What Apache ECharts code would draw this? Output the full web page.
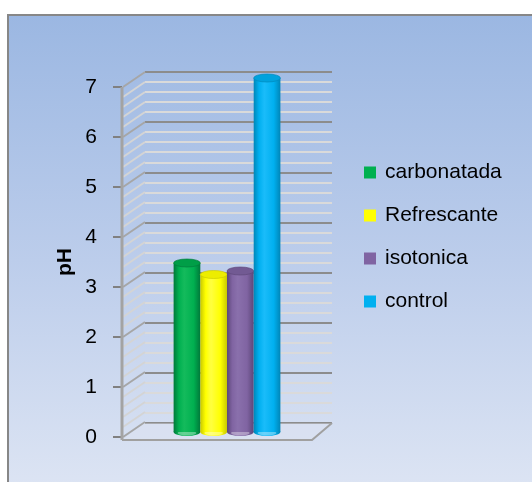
<!DOCTYPE html>
<html>
<head>
<meta charset="utf-8">
<script src="https://cdn.jsdelivr.net/npm/echarts@6/dist/echarts.min.js"></script>
<style>
  html, body { margin: 0; padding: 0; background: #ffffff; }
  #chart { width: 532px; height: 482px; }
</style>
</head>
<body>
<div id="chart"></div>
<script>
// pH of each drink type
const categories = ['pH'];
const seriesNames = ['carbonatada', 'Refrescante', 'isotonica', 'control'];
const carbonatada = [3.38];
const refrescante = [3.15];
const isotonica = [3.22];
const control = [7.08];
const yTicks = [0, 1, 2, 3, 4, 5, 6, 7];
const seriesValues = [carbonatada, refrescante, isotonica, control];

const colors = ['#00b050', '#ffff00', '#8064a2', '#00b0f0'];
// cylinder shading: [edge, body, highlight, top cap]
const shades = [
  ['#00793a', '#00b050', '#14bb5c', '#009e47'],
  ['#c9c900', '#ffff00', '#ffff40', '#eded00'],
  ['#5c4779', '#8064a2', '#8a70ac', '#725a93'],
  ['#0086b8', '#00b0f0', '#1abcfa', '#00a2dd']
];

// 3D wall offset (front plane -> back plane) in pixels
const DEPTH_X = 23, DEPTH_Y = -15;
// bar plane offset inside the depth
const BAR_DX = 10, BAR_DY = -5;
const BAR_RATIO = 0.1405;
const CAP_RY = 4;

const yMin = yTicks[0], yMax = yTicks[yTicks.length - 1];
const minorSteps = 5;

function cylinder(i) {
  return function (params, api) {
    const base = api.coord([api.value(0), 0]);
    const top = api.coord([api.value(0), api.value(1)]);
    const band = api.size([1, 0])[0];
    const w = band * BAR_RATIO;
    const n = seriesNames.length;
    const cx = base[0] + BAR_DX + (i - (n - 1) / 2) * w;
    const x0 = cx - w / 2;
    const yb = base[1] + BAR_DY;
    const yt = top[1] + BAR_DY;
    const s = shades[i];
    const grad = {
      type: 'linear', x: 0, y: 0, x2: 1, y2: 0,
      colorStops: [
        { offset: 0, color: s[0] },
        { offset: 0.2, color: s[1] },
        { offset: 0.4, color: s[2] },
        { offset: 0.75, color: s[1] },
        { offset: 1, color: s[0] }
      ]
    };
    const r = w / 2;
    return {
      type: 'group',
      children: [
        { type: 'circle', x: cx, y: yb, scaleY: CAP_RY / r, shape: { cx: 0, cy: 0, r: r }, style: { fill: grad } },
        { type: 'circle', x: cx, y: yb + 1, scaleY: (CAP_RY - 1.5) / (r - 4), shape: { cx: 0, cy: 0, r: r - 4 }, style: { fill: 'rgba(255,255,255,0.35)' } },
        { type: 'rect', shape: { x: x0, y: yt, width: w, height: yb - yt }, style: { fill: grad } },
        { type: 'circle', x: cx, y: yt, scaleY: CAP_RY / r, shape: { cx: 0, cy: 0, r: r }, style: { fill: s[3], stroke: s[0], lineWidth: 1 } }
      ]
    };
  };
}

// side wall, floor and front corner drawn from the front value axis
function walls(params, api) {
  const cs = params.coordSys;
  const left = cs.x, right = cs.x + cs.width;
  const children = [];
  const step = (yTicks[1] - yTicks[0]) / minorSteps;
  for (let k = 0; k <= (yMax - yMin) / step + 1e-6; k++) {
    const v = yMin + k * step;
    const y = api.coord([0, v])[1];
    const major = k % minorSteps === 0;
    children.push({
      type: 'line',
      shape: { x1: left + 1, y1: y, x2: left + DEPTH_X, y2: y + DEPTH_Y },
      style: { stroke: major ? '#a6a6a6' : '#d4d4d4', lineWidth: 2 }
    });
  }
  const y0 = api.coord([0, yMin])[1];
  const yTop = api.coord([0, yMax])[1];
  // floor
  children.push({
    type: 'polygon',
    shape: { points: [[left, y0 + 3], [right, y0 + 3], [right + DEPTH_X - 3, y0 + DEPTH_Y + 1], [left + DEPTH_X, y0 + DEPTH_Y + 1]] },
    style: { fill: 'rgba(225,230,240,0.35)' }
  });
  children.push({
    type: 'polyline',
    shape: { points: [[left, y0 + 3], [right, y0 + 3], [right + DEPTH_X - 3, y0 + DEPTH_Y + 1]] },
    style: { stroke: '#a0a0a0', lineWidth: 2, fill: null }
  });
  // front vertical edge of the side wall
  children.push({
    type: 'line',
    shape: { x1: left, y1: yTop, x2: left, y2: y0 + 3 },
    style: { stroke: '#a3a3a3', lineWidth: 3 }
  });
  return { type: 'group', children: children };
}

const chart = echarts.init(document.getElementById('chart'), null, { renderer: 'canvas' });

const series = seriesNames.map((name, i) => ({
  name: name,
  type: 'custom',
  xAxisIndex: 0,
  yAxisIndex: 0,
  z: 5,
  itemStyle: { color: colors[i] },
  renderItem: cylinder(i),
  data: seriesValues[i].map((v, j) => [j, v])
}));

series.unshift({
  name: 'walls',
  type: 'custom',
  xAxisIndex: 0,
  yAxisIndex: 0,
  z: 1,
  silent: true,
  renderItem: walls,
  data: [[0, 0]]
});

const option = {
  animation: false,
  graphic: [
    {
      type: 'rect',
      z: -10,
      shape: { x: 8, y: 15, width: 540, height: 490 },
      style: {
        fill: {
          type: 'linear', x: 0, y: 0, x2: 0, y2: 1,
          colorStops: [
            { offset: 0, color: '#9bb7e2' },
            { offset: 0.5, color: '#bccdeb' },
            { offset: 1, color: '#dfe6f4' }
          ]
        },
        stroke: '#878787',
        lineWidth: 2
      }
    }
  ],
  legend: {
    data: seriesNames,
    orient: 'vertical',
    left: 364,
    top: 162,
    padding: 0,
    itemWidth: 12,
    itemHeight: 12,
    itemGap: 22,
    icon: 'rect',
    textStyle: {
      fontFamily: 'Liberation Sans, Arial, sans-serif',
      fontSize: 21,
      color: '#000000',
      padding: [0, 0, 0, 4],
      lineHeight: 21
    }
  },
  grid: [
    { left: 122, top: 87, width: 190, height: 350, containLabel: false },
    { left: 122 + DEPTH_X, top: 87 + DEPTH_Y, width: 187, height: 351, containLabel: false }
  ],
  xAxis: [
    { gridIndex: 0, type: 'category', data: categories, show: false },
    { gridIndex: 1, type: 'category', data: categories, show: false }
  ],
  yAxis: [
    {
      gridIndex: 0,
      type: 'value',
      min: yMin,
      max: yMax,
      interval: 1,
      name: 'pH',
      nameLocation: 'middle',
      nameGap: 46,
      nameTextStyle: { fontFamily: 'Liberation Sans, Arial, sans-serif', fontSize: 21, fontWeight: 'bold', color: '#000' },
      axisLine: { show: false },
      axisTick: { show: true, length: 9, lineStyle: { color: '#808080', width: 2 } },
      axisLabel: {
        margin: 25,
        fontFamily: 'Liberation Sans, Arial, sans-serif',
        fontSize: 21,
        color: '#000000'
      },
      splitLine: { show: false }
    },
    {
      gridIndex: 1,
      type: 'value',
      min: yMin,
      max: yMax,
      interval: 1,
      axisLine: { show: false },
      axisTick: { show: false },
      axisLabel: { show: false },
      minorTick: { show: false, splitNumber: minorSteps },
      splitLine: { show: true, lineStyle: { color: '#8c8c8c', width: 2 } },
      minorSplitLine: { show: true, lineStyle: { color: '#dadada', width: 2 } }
    }
  ],
  series: series
};

chart.setOption(option);
</script>
</body>
</html>
